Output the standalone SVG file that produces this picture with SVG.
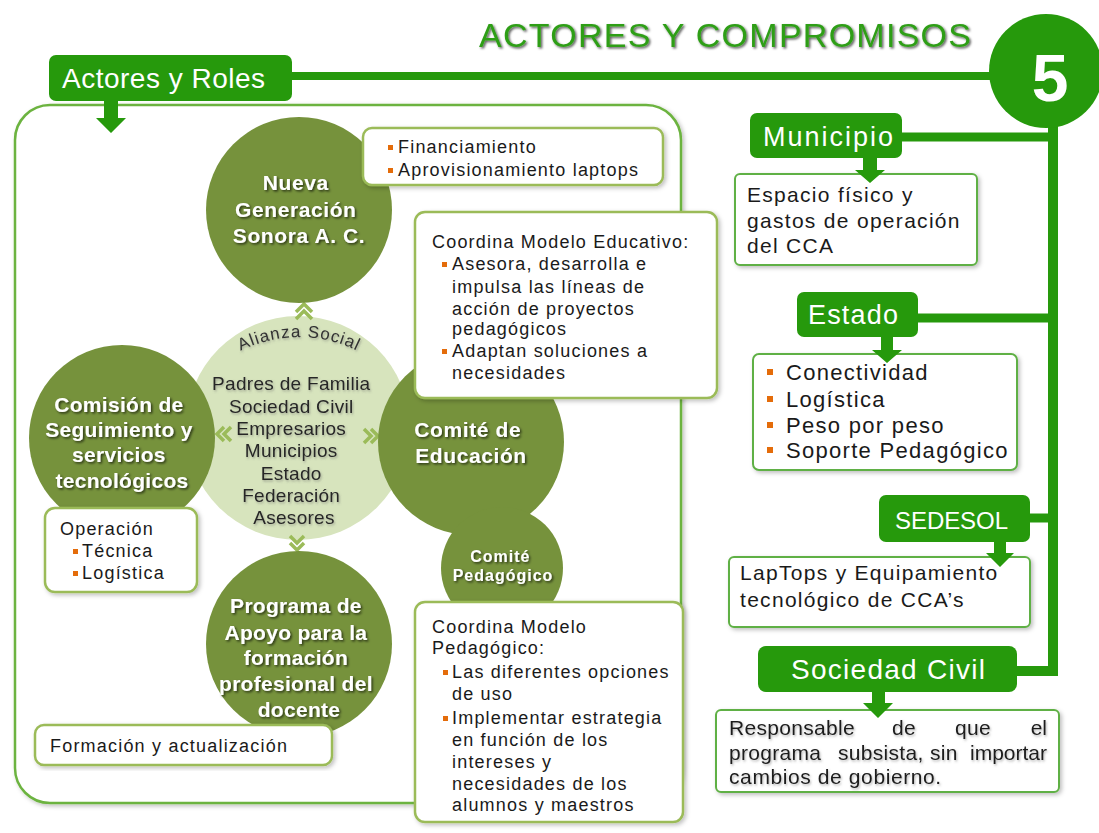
<svg xmlns="http://www.w3.org/2000/svg" width="1099" height="833" viewBox="0 0 1099 833">
<defs>
<style>
.f{font-family:"Liberation Sans",Arial,sans-serif}
.box{fill:#fff;stroke:#9bbb59;stroke-width:2.5}
.rbox{fill:#fff;stroke:#5fb044;stroke-width:2}
.gbox{fill:#26990c}
.dc{fill:#76923c}
.lbl{font-family:"Liberation Sans",Arial,sans-serif;font-size:27px;fill:#fff}
.t18{font-family:"Liberation Sans",Arial,sans-serif;font-size:18px;letter-spacing:1.2px;fill:#1a1a1a}
.t21{font-family:"Liberation Sans",Arial,sans-serif;font-size:21px;letter-spacing:1.3px;fill:#1a1a1a}
.t22{font-family:"Liberation Sans",Arial,sans-serif;font-size:22px;letter-spacing:1.3px;fill:#1a1a1a}
.ct{font-family:"Liberation Sans",Arial,sans-serif;font-weight:bold;font-size:21px;fill:#fff;text-anchor:middle;letter-spacing:0.6px}
.lt{font-family:"Liberation Sans",Arial,sans-serif;font-size:19px;fill:#262626;text-anchor:middle;letter-spacing:0.3px}
.bul{fill:#e46c0a}
.conn{stroke:#26990c;fill:none}
.chev{fill:none;stroke:#9bbb59;stroke-width:3.5}
</style>
<filter id="tsd" x="-10%" y="-20%" width="125%" height="150%"><feDropShadow dx="1.5" dy="1.5" stdDeviation="1" flood-color="#000" flood-opacity="0.65"/></filter>
<filter id="tsl" x="-10%" y="-20%" width="125%" height="150%"><feDropShadow dx="1" dy="1.5" stdDeviation="1" flood-color="#666" flood-opacity="0.5"/></filter>
<filter id="bs" x="-5%" y="-10%" width="112%" height="125%"><feDropShadow dx="2" dy="2" stdDeviation="2" flood-color="#000" flood-opacity="0.25"/></filter>
</defs>
<rect width="1099" height="833" fill="#fff"/>

<!-- title -->
<g id="title">
<text x="479" y="47" class="f" font-size="34" fill="#2e9e17" textLength="492" lengthAdjust="spacing" filter="url(#tsd)">ACTORES Y COMPROMISOS</text>
</g>

<!-- connectors -->
<g id="connectors">
<line x1="290" y1="76" x2="1000" y2="76" class="conn" stroke-width="8"/>
<polyline points="1053,90 1053,671 1015,671" class="conn" stroke-width="10"/>
<line x1="900" y1="137" x2="1053" y2="137" class="conn" stroke-width="9"/>
<line x1="916" y1="318" x2="1053" y2="318" class="conn" stroke-width="9"/>
<line x1="1028" y1="518" x2="1053" y2="518" class="conn" stroke-width="9"/>
</g>

<!-- number badge -->
<g id="badge">
<circle cx="1046" cy="71" r="57" fill="#26990c"/>
<text x="1050" y="101" class="f" font-size="66" font-weight="bold" fill="#fff" text-anchor="middle">5</text>
</g>

<!-- container -->
<g id="container">
<rect x="15" y="105" width="666" height="698" rx="35" fill="#fff" stroke="#6cb33f" stroke-width="2.5" filter="url(#bs)"/>
</g>

<!-- Actores y Roles -->
<g id="actores-roles">
<rect x="49" y="55" width="243" height="46" rx="7" class="gbox"/>
<text x="62" y="88" class="lbl" style="font-size:28px" textLength="203" lengthAdjust="spacing">Actores y Roles</text>
<path d="M104,100 H118 V118 H126 L111,133 L96,118 H104 Z" class="gbox"/>
</g>

<!-- light circle -->
<g id="alianza-social">
<circle cx="298" cy="428" r="112" fill="#d7e4bd"/>
<path id="arc" d="M225,360 A131,131 0 0 1 373,360" fill="none"/>
<text class="f" font-size="17" fill="#333" letter-spacing="1" filter="url(#tsl)"><textPath href="#arc" startOffset="50%" text-anchor="middle">Alianza Social</textPath></text>
<text class="lt" filter="url(#tsl)">
<tspan x="294" y="390">Padres de Familia</tspan>
<tspan x="294" y="413">Sociedad Civil</tspan>
<tspan x="294" y="435">Empresarios</tspan>
<tspan x="294" y="457">Municipios</tspan>
<tspan x="294" y="480">Estado</tspan>
<tspan x="294" y="502">Federación</tspan>
<tspan x="294" y="524">Asesores</tspan>
</text>
<polyline class="chev" points="296,312 304,304 312,312"/>
<polyline class="chev" points="296,319 304,311 312,319"/>
<polyline class="chev" points="224,427 217,434 224,441"/>
<polyline class="chev" points="231,427 224,434 231,441"/>
<polyline class="chev" points="364,429 371,436 364,443"/>
<polyline class="chev" points="371,429 378,436 371,443"/>
<polyline class="chev" points="290,536 297,543 304,536"/>
<polyline class="chev" points="290,543 297,550 304,543"/>
</g>

<!-- Nueva Generacion -->
<g id="nueva-generacion">
<circle cx="299" cy="210" r="93" class="dc"/>
<text class="ct" filter="url(#tsd)">
<tspan x="299" y="190">Nueva</tspan>
<tspan x="299" y="217">Generación</tspan>
<tspan x="299" y="243">Sonora A. C.</tspan>
</text>
</g>

<!-- Comision -->
<g id="comision">
<circle cx="122" cy="438" r="93" class="dc"/>
<text class="ct" style="letter-spacing:0.3px" filter="url(#tsd)">
<tspan x="122" y="412">Comisión de</tspan>
<tspan x="122" y="437">Seguimiento y</tspan>
<tspan x="122" y="462">servicios</tspan>
<tspan x="122" y="488">tecnológicos</tspan>
</text>
</g>

<!-- Comite de Educacion + Pedagogico -->
<g id="comite-educacion">
<circle cx="471" cy="442" r="93" class="dc"/>
<text class="ct" filter="url(#tsd)">
<tspan x="471" y="437">Comité de</tspan>
<tspan x="471" y="463">Educación</tspan>
</text>
</g>
<g id="comite-pedagogico">
<circle cx="502" cy="568" r="61" class="dc"/>
<text class="ct" style="font-size:16px;letter-spacing:1px" filter="url(#tsd)">
<tspan x="503" y="562">Comité</tspan>
<tspan x="503" y="581">Pedagógico</tspan>
</text>
</g>

<!-- Programa -->
<g id="programa-apoyo">
<circle cx="299" cy="644" r="93" class="dc"/>
<text class="ct" style="letter-spacing:0.3px" filter="url(#tsd)">
<tspan x="299" y="613">Programa de</tspan>
<tspan x="299" y="640">Apoyo para la</tspan>
<tspan x="299" y="665">formación</tspan>
<tspan x="299" y="691">profesional del</tspan>
<tspan x="299" y="717">docente</tspan>
</text>
</g>

<!-- left text boxes -->
<g id="box-financiamiento">
<rect x="363" y="128" width="300" height="57" rx="9" class="box" filter="url(#bs)"/>
<rect x="388" y="145" width="5" height="5" class="bul"/>
<rect x="388" y="168" width="5" height="5" class="bul"/>
<text class="t18"><tspan x="398" y="153">Financiamiento</tspan><tspan x="398" y="176">Aprovisionamiento laptops</tspan></text>
</g>

<g id="box-modelo-educativo">
<rect x="415" y="212" width="302" height="186" rx="10" class="box" filter="url(#bs)"/>
<rect x="442" y="262" width="5" height="5" class="bul"/>
<rect x="442" y="349" width="5" height="5" class="bul"/>
<text class="t18">
<tspan x="432" y="248">Coordina Modelo Educativo:</tspan>
<tspan x="452" y="270">Asesora, desarrolla e</tspan>
<tspan x="452" y="293">impulsa las líneas de</tspan>
<tspan x="452" y="315">acción de proyectos</tspan>
<tspan x="452" y="335">pedagógicos</tspan>
<tspan x="452" y="357">Adaptan soluciones a</tspan>
<tspan x="452" y="379">necesidades</tspan>
</text>
</g>

<g id="box-operacion">
<rect x="45" y="508" width="152" height="84" rx="10" class="box" filter="url(#bs)"/>
<rect x="73" y="549" width="5" height="5" class="bul"/>
<rect x="73" y="571" width="5" height="5" class="bul"/>
<text class="t18">
<tspan x="60" y="535">Operación</tspan>
<tspan x="82" y="557">Técnica</tspan>
<tspan x="82" y="579">Logística</tspan>
</text>
</g>

<g id="box-formacion">
<rect x="35" y="725" width="297" height="40" rx="9" class="box" filter="url(#bs)"/>
<text x="50" y="752" class="t18">Formación y actualización</text>
</g>

<g id="box-modelo-pedagogico">
<rect x="415" y="602" width="268" height="220" rx="10" class="box" filter="url(#bs)"/>
<rect x="443" y="670" width="5" height="5" class="bul"/>
<rect x="443" y="716" width="5" height="5" class="bul"/>
<text class="t18">
<tspan x="432" y="633">Coordina Modelo</tspan>
<tspan x="432" y="654">Pedagógico:</tspan>
<tspan x="452" y="678">Las diferentes opciones</tspan>
<tspan x="452" y="700">de uso</tspan>
<tspan x="452" y="724">Implementar estrategia</tspan>
<tspan x="452" y="746">en función de los</tspan>
<tspan x="452" y="768">intereses y</tspan>
<tspan x="452" y="790">necesidades de los</tspan>
<tspan x="452" y="811">alumnos y maestros</tspan>
</text>
</g>

<!-- right side -->
<g id="municipio">
<rect x="750" y="113" width="152" height="45" rx="7" class="gbox"/>
<text x="763" y="146" class="lbl" textLength="130" lengthAdjust="spacing">Municipio</text>
</g>
<g id="box-municipio">
<rect x="735" y="174" width="242" height="91" rx="5" class="rbox" filter="url(#bs)"/>
<text class="t21">
<tspan x="747" y="202">Espacio físico y</tspan>
<tspan x="747" y="228">gastos de operación</tspan>
<tspan x="747" y="253">del CCA</tspan>
</text>
<path d="M863,157 H877 V170 H885 L870,183 L855,170 H863 Z" class="gbox"/>
</g>

<g id="estado">
<rect x="797" y="292" width="121" height="45" rx="7" class="gbox"/>
<text x="808" y="324" class="lbl" textLength="90" lengthAdjust="spacing">Estado</text>
</g>
<g id="box-estado">
<rect x="753" y="354" width="264" height="116" rx="6" class="rbox" filter="url(#bs)"/>
<rect x="767" y="369" width="6" height="6" class="bul"/>
<rect x="767" y="396" width="6" height="6" class="bul"/>
<rect x="767" y="422" width="6" height="6" class="bul"/>
<rect x="767" y="447" width="6" height="6" class="bul"/>
<text class="t22">
<tspan x="786" y="380">Conectividad</tspan>
<tspan x="786" y="407">Logística</tspan>
<tspan x="786" y="433">Peso por peso</tspan>
<tspan x="786" y="458">Soporte Pedagógico</tspan>
</text>
<path d="M881,336 H893 V350 H902 L887,363 L872,350 H881 Z" class="gbox"/>
</g>

<g id="sedesol">
<rect x="879" y="495" width="151" height="47" rx="7" class="gbox"/>
<text x="895" y="529" class="lbl" style="font-size:24px" textLength="113" lengthAdjust="spacing">SEDESOL</text>
</g>
<g id="box-sedesol">
<rect x="729" y="557" width="301" height="70" rx="5" class="rbox" filter="url(#bs)"/>
<text class="t21">
<tspan x="740" y="580">LapTops y Equipamiento</tspan>
<tspan x="740" y="607">tecnológico de CCA’s</tspan>
</text>
<path d="M994,541 H1006 V553 H1014 L1000,567 L986,553 H994 Z" class="gbox"/>
</g>

<g id="sociedad-civil">
<rect x="758" y="646" width="259" height="46" rx="8" class="gbox"/>
<text x="791" y="679" class="lbl" style="font-size:28px" textLength="194" lengthAdjust="spacing">Sociedad Civil</text>
</g>
<g id="box-sociedad">
<rect x="716" y="710" width="343" height="82" rx="5" class="rbox" filter="url(#bs)"/>
<g filter="url(#tsl)">
<text x="729" y="735" class="t21" style="letter-spacing:0.3px">Responsable</text>
<text x="892" y="735" class="t21" style="letter-spacing:0.3px">de</text>
<text x="955" y="735" class="t21" style="letter-spacing:0.3px">que</text>
<text x="1047" y="735" class="t21" style="letter-spacing:0px" text-anchor="end">el</text>
<text x="729" y="760" class="t21" style="letter-spacing:0.3px">programa</text>
<text x="838" y="760" class="t21" style="letter-spacing:0.3px">subsista,</text>
<text x="930" y="760" class="t21" style="letter-spacing:0.3px">sin</text>
<text x="1047" y="760" class="t21" style="letter-spacing:0px" text-anchor="end">importar</text>
<text x="729" y="784" class="t21" style="letter-spacing:0.6px">cambios de gobierno.</text>
</g>
<path d="M872,691 H885 V703 H893 L878,718 L863,703 H872 Z" class="gbox"/>
</g>
</svg>
